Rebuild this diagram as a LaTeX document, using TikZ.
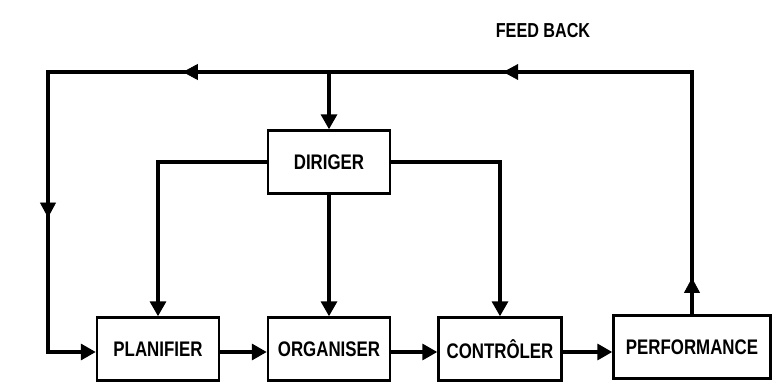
\documentclass[tikz,border=0pt]{standalone}
\usepackage{fontspec}
\setmainfont{Liberation Sans}[FakeStretch=0.8]
\usetikzlibrary{positioning,arrows.meta,decorations.markings}
\tikzset{
  boite/.style={draw,line width=1.4pt,minimum height=1.26cm,
    font=\fontsize{12}{14}\selectfont\bfseries,inner sep=2pt},
  ligne/.style={line width=1.9pt,line join=miter},
  pointe/.style={-{Triangle[length=0.3cm,width=0.32cm]}},
  fl/.style={postaction={decorate},decoration={markings,
    mark=at position #1 with {\arrow{Triangle[length=0.3cm,width=0.32cm]}}}},
}
\begin{document}
\begin{tikzpicture}[x=0.02cm,y=-0.02cm]
  \useasboundingbox (0,0) rectangle (777,388);
  % blocs
  \node[boite,minimum width=2.44cm] (dirig) at (329,162) {DIRIGER};
  \node[boite,minimum width=2.44cm] (plan) at (158,349) {PLANIFIER};
  \node[boite,minimum width=2.44cm] (org) at (329,349) {ORGANISER};
  \node[boite,minimum width=2.46cm] (ctrl) at (500,349) {CONTRÔLER};
  \node[boite,minimum width=3.14cm] (perf) at (692,347) {PERFORMANCE};
  \node[font=\fontsize{11.5}{13}\selectfont\bfseries] (fb) at (543,31) {FEED BACK};
  \coordinate (hautG) at (48,72);
  \coordinate (hautM) at (329,72);
  \coordinate (hautD) at (692,72);
  \coordinate (basG) at (48,352);
  % boucle de retour
  \draw[ligne,pointe] (perf.north) -- (hautD) -- (hautG) -- (basG) -- (plan.west |- basG);
  \path[fl=0.15] (perf.north) -- (hautD);
  \path[fl=0.52] (hautD) -- (hautM);
  \path[fl=0.52] (hautM) -- (hautG);
  \path[fl=0.52] (hautG) -- (basG);
  \draw[ligne,pointe] (hautM) -- (dirig.north);
  % diriger vers les blocs
  \draw[ligne,pointe] (dirig.west) -| (plan.north);
  \draw[ligne,pointe] (dirig.south) -- (org.north);
  \draw[ligne,pointe] (dirig.east) -| (ctrl.north);
  % chaine
  \draw[ligne,pointe] (plan.east |- basG) -- (org.west |- basG);
  \draw[ligne,pointe] (org.east |- basG) -- (ctrl.west |- basG);
  \draw[ligne,pointe] (ctrl.east |- basG) -- (perf.west |- basG);
\end{tikzpicture}
\end{document}
